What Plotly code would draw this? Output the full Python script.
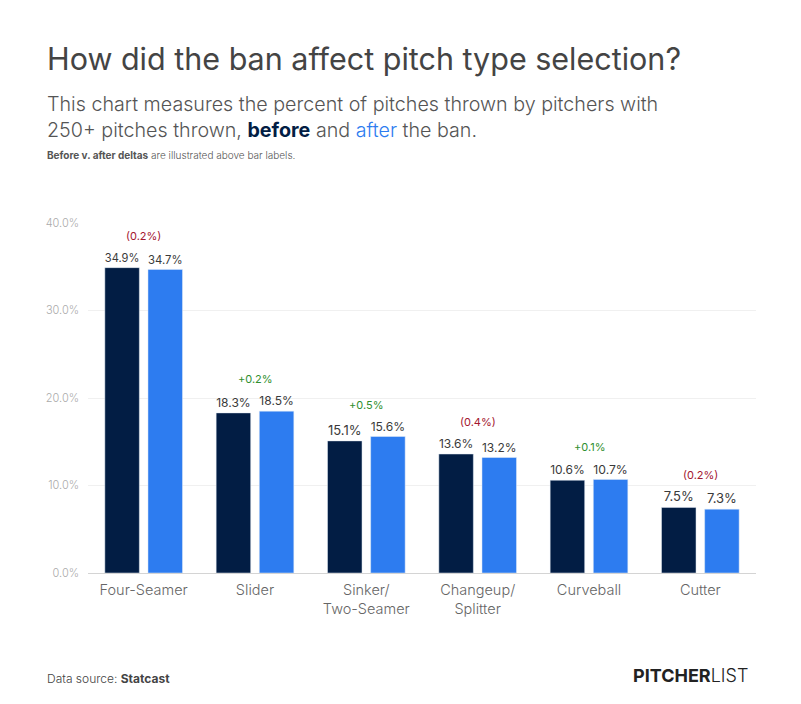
import plotly.graph_objects as go

# pitch types and percent of pitches thrown
pitches = ["Four-Seamer", "Slider", "Sinker/<br>Two-Seamer", "Changeup/<br>Splitter", "Curveball", "Cutter"]
before = [34.9, 18.3, 15.1, 13.6, 10.6, 7.5]
after = [34.7, 18.5, 15.6, 13.2, 10.7, 7.3]
deltas = ["(0.2%)", "+0.2%", "+0.5%", "(0.4%)", "+0.1%", "(0.2%)"]
y_ticks = [0, 10, 20, 30, 40]

navy = "#021d44"
blue = "#2d7cf0"
font = "Inter"

fig = go.Figure()
fig.add_trace(go.Bar(x=pitches, y=before, name="before", marker_color=navy,
                     text=[f"{v:.1f}%" for v in before], textposition="outside",
                     cliponaxis=False))
fig.add_trace(go.Bar(x=pitches, y=after, name="after", marker_color=blue,
                     text=[f"{v:.1f}%" for v in after], textposition="outside",
                     cliponaxis=False))
fig.update_traces(textfont=dict(family=font, size=13, color="#3a3a3a"))

# deltas above bar labels
for p, b, a, d in zip(pitches, before, after, deltas):
    fig.add_annotation(x=p, y=max(b, a), text=d, showarrow=False, yshift=32,
                       font=dict(family=font, size=11,
                                 color="#a3162f" if d.startswith("(") else "#2f8f2f"))

# title block
fig.add_annotation(xref="paper", yref="paper", x=-0.0644, y=1.471, xanchor="left", yanchor="middle",
                   text="How did the ban affect pitch type selection?", showarrow=False,
                   font=dict(family=font, size=30.5, color="#444444"))
fig.add_annotation(xref="paper", yref="paper", x=-0.0644, y=1.303, xanchor="left", yanchor="middle",
                   align="left", showarrow=False,
                   text="This chart measures the percent of pitches thrown by pitchers with<br>"
                        "250+ pitches thrown, <span style='color:%s'><b>before</b></span> and "
                        "<span style='color:%s'>after</span> the ban." % (navy, blue),
                   font=dict(family=font, size=19.7, color="#555555", weight=300))
fig.add_annotation(xref="paper", yref="paper", x=-0.0644, y=1.194, xanchor="left", yanchor="middle",
                   text="<b>Before v. after deltas</b> are illustrated above bar labels.", showarrow=False,
                   font=dict(family=font, size=10, color="#555555", weight=300))

# footer
fig.add_annotation(xref="paper", yref="paper", x=-0.0644, y=-0.3, xanchor="left", yanchor="middle",
                   text="Data source: <b>Statcast</b>", showarrow=False,
                   font=dict(family=font, size=12, color="#444444", weight=300))
fig.add_annotation(xref="paper", yref="paper", x=0.991, y=-0.294, xanchor="right", yanchor="middle",
                   text="<b>PITCHER</b>LIST", showarrow=False,
                   font=dict(family=font, size=18, color="#222222", weight=300))

fig.update_layout(
    width=801, height=704,
    margin=dict(l=80, r=53, t=215, b=139),
    paper_bgcolor="white", plot_bgcolor="white",
    showlegend=False,
    barmode="group", bargap=0.225, bargroupgap=0.2,
    xaxis=dict(showline=True, linecolor="#d4d4d4", linewidth=1, ticks="", ticklabelstandoff=4,
               tickfont=dict(family=font, size=14.5, color="#666666", weight=300)),
    yaxis=dict(range=[0, 40], tickvals=y_ticks, ticktext=[f"{t:.1f}%" for t in y_ticks],
               gridcolor="#f0f0f0", zeroline=False, ticks="", ticklabelstandoff=8,
               tickfont=dict(family=font, size=11, color="#aaaaaa", weight=300)),
)

fig.write_html("out.html")
